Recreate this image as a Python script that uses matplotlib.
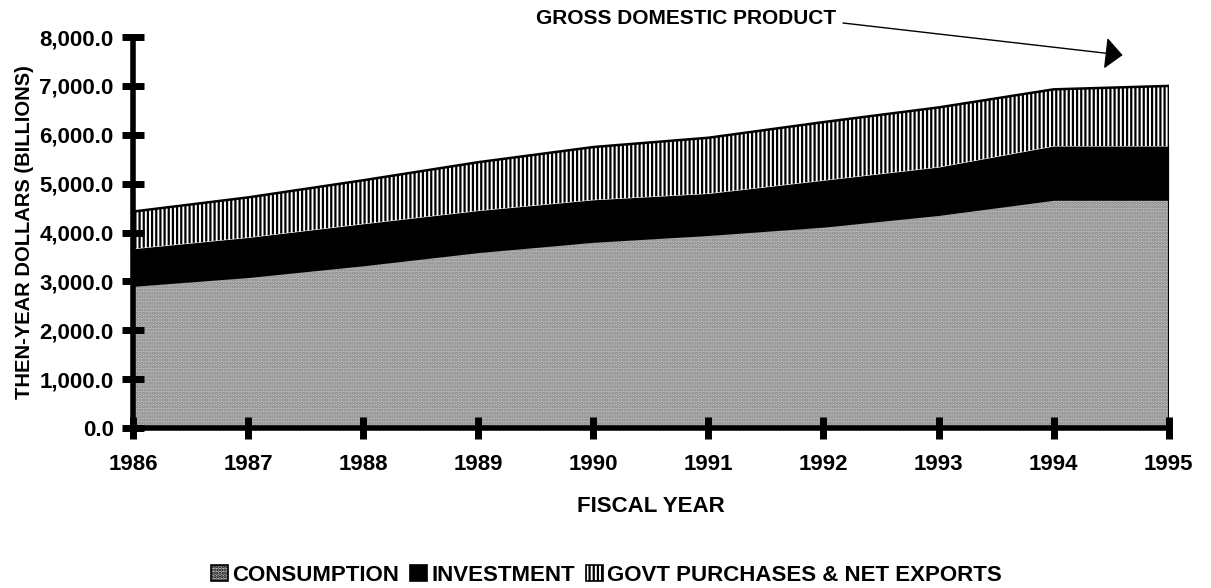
import matplotlib
matplotlib.use("Agg")
import matplotlib.pyplot as plt
from matplotlib.patches import Patch
import numpy as np

years = [1986, 1987, 1988, 1989, 1990, 1991, 1992, 1993, 1994, 1995]
consumption = [2900, 3080, 3320, 3590, 3800, 3940, 4110, 4350, 4660, 4660]
investment = [770, 820, 860, 860, 870, 860, 960, 990, 1110, 1110]
govt_net_exports = [760, 820, 890, 990, 1080, 1140, 1190, 1220, 1160, 1230]
series_labels = ["CONSUMPTION", "INVESTMENT", "GOVT PURCHASES & NET EXPORTS"]
yticks = [0, 1000, 2000, 3000, 4000, 5000, 6000, 7000, 8000]

plt.rcParams['font.family'] = ['Liberation Sans', 'DejaVu Sans']
plt.rcParams['font.weight'] = 'bold'
plt.rcParams['hatch.linewidth'] = 1.6

fig = plt.figure(figsize=(12.11, 5.88), dpi=100)
ax = fig.add_axes([0.110, 0.272, 0.855, 0.665])

c = np.array(consumption)
i = c + np.array(investment)
g = i + np.array(govt_net_exports)

ax.fill_between(years, 0, c, facecolor='#bcbcbc', edgecolor='#858585', hatch='.....', linewidth=0)
ax.fill_between(years, c, i, facecolor='black', edgecolor='black', linewidth=0)
ax.fill_between(years, i, g, facecolor='white', edgecolor='black', hatch='||||', linewidth=0)
ax.plot(years, g, color='black', lw=1.8)
ax.plot([years[-1], years[-1]], [0, g[-1]], color='black', lw=1.5)

ax.set_xlim(years[0], years[-1])
ax.set_ylim(0, 8000)
ax.set_xticks(years)
ax.set_yticks(yticks)
ax.set_yticklabels([f"{v:,.1f}" for v in yticks])
for s in ['top', 'right']:
    ax.spines[s].set_visible(False)
for s in ['left', 'bottom']:
    ax.spines[s].set_linewidth(4)
    ax.spines[s].set_capstyle('round')
ax.tick_params(axis='both', direction='inout', length=16, width=5)
ax.tick_params(axis='x', labelsize=16, pad=11)
ax.tick_params(axis='y', labelsize=16, pad=6)
for t in ax.get_xticklines() + ax.get_yticklines():
    t.set_clip_on(False)

ax.set_ylabel("THEN-YEAR DOLLARS (BILLIONS)", fontsize=14.5, fontweight='bold', labelpad=4)
ax.set_xlabel("FISCAL YEAR", fontsize=16, fontweight='bold', labelpad=15)

fig.text(686 / 1211, 1 - 18 / 588, "GROSS DOMESTIC PRODUCT", ha='center', va='center',
         fontsize=15, fontweight='bold')
ax.annotate("", xy=(1994.6, 7630), xycoords='data',
            xytext=(843 / 1211, 1 - 23 / 588), textcoords='figure fraction',
            arrowprops=dict(arrowstyle='-|>,head_length=0.55,head_width=0.5', lw=1.0,
                            color='black', mutation_scale=20, shrinkA=0, shrinkB=0))

handles = [Patch(facecolor='#bcbcbc', edgecolor='black', hatch='.....', lw=1.2),
           Patch(facecolor='black', edgecolor='black', lw=1.2),
           Patch(facecolor='white', edgecolor='black', hatch='||||', lw=1.2)]
fig.legend(handles, series_labels, loc='center', bbox_to_anchor=(0.501, 0.022), ncol=3,
           frameon=False, handlelength=0.75, handleheight=0.75,
           handletextpad=0.2, columnspacing=0.5, prop={'weight': 'bold', 'size': 16})

fig.savefig("out.png", dpi=100)
